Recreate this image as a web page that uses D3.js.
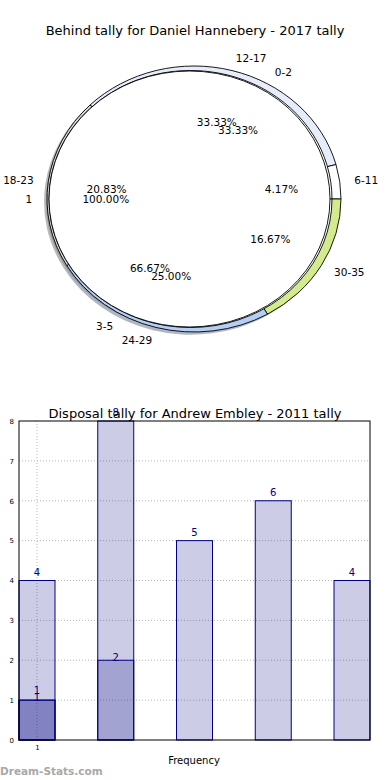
<!DOCTYPE html>
<html>
<head>
<meta charset="utf-8">
<script src="https://cdn.jsdelivr.net/npm/d3@7"></script>
<style>
  body { margin: 0; background: #fff; }
  text { font-family: "DejaVu Sans", sans-serif; }
</style>
</head>
<body>
<svg id="chart" width="390" height="780"></svg>
<script>
// --- pie data (three pies drawn on top of each other)
const ageLabels = ["12-17", "6-11", "30-35", "24-29", "18-23"];
const ageValues = [8, 1, 4, 6, 5];
const ageColors = ["#e6ecfa", "#ffffff", "#d3eb8d", "#b4cef6", "#d8d8d8"];

const youngLabels = ["0-2", "3-5"];
const youngValues = [1, 2];

const gameLabels = ["1"];
const gameValues = [1];

// --- bar data
const barCategories = [1, 2, 3, 4, 5];
const disposals = [4, 8, 5, 6, 4];
const overlayA = [1, 2];
const overlayB = [1];
const yTicks = [0, 1, 2, 3, 4, 5, 6, 7, 8];
const xTicks = [1];

const svg = d3.select("#chart");

// ================= pie =================
svg.append("text")
  .attr("x", 195).attr("y", 35)
  .attr("text-anchor", "middle")
  .style("font-size", "13px")
  .text("Behind tally for Daniel Hannebery - 2017 tally");

const textGeom = { cx: 194, cy: 199, rx: 147, ry: 133 };
const deg = Math.PI / 180;

const pies = [
  { labels: ageLabels, values: ageValues, colors: ageColors, start: -45,
    geom: { cx: 194, cy: 199, rx: 147, ry: 133 } },
  { labels: youngLabels, values: youngValues, colors: ["#ffffff", "#ffffff"], start: -30,
    geom: { cx: 190.5, cy: 199, rx: 141.5, ry: 128.5 } },
  { labels: gameLabels, values: gameValues, colors: ["#ffffff"], start: 90,
    geom: { cx: 189.5, cy: 199, rx: 140.5, ry: 128 } }
];

const arc = d3.arc().innerRadius(0).outerRadius(1);
pies.forEach(p => {
  p.arcs = d3.pie().sort(null)
    .startAngle(p.start * deg)
    .endAngle((p.start + 360) * deg)(p.values);
});

// shadows first (they sit under every wedge)
pies.forEach(p => {
  const g = p.geom;
  svg.append("g")
    .attr("transform", `translate(${g.cx - 3},${g.cy + 2.7}) scale(${g.rx},${g.ry})`)
    .selectAll("path")
    .data(p.arcs)
    .join("path")
    .attr("d", arc)
    .attr("fill", (d, i) => d3.rgb(p.colors[i]).darker(1.7))
    .attr("opacity", 0.5);
});

pies.forEach(p => {
  const g = p.geom;
  svg.append("g")
    .attr("transform", `translate(${g.cx},${g.cy}) scale(${g.rx},${g.ry})`)
    .selectAll("path")
    .data(p.arcs)
    .join("path")
    .attr("d", arc)
    .attr("fill", (d, i) => p.colors[i])
    .attr("stroke", "#000")
    .attr("stroke-width", 0.9)
    .attr("vector-effect", "non-scaling-stroke");
});

const fmtPct = d3.format(".2f");
pies.forEach(p => {
  const sum = d3.sum(p.values);
  p.arcs.forEach((d, i) => {
    const mid = (d.startAngle + d.endAngle) / 2;
    const sx = Math.sin(mid), cy = Math.cos(mid);
    svg.append("text")
      .attr("x", textGeom.cx + 1.1 * textGeom.rx * sx)
      .attr("y", textGeom.cy - 1.1 * textGeom.ry * cy)
      .attr("text-anchor", sx > 1e-9 ? "start" : "end")
      .attr("dominant-baseline", "central")
      .style("font-size", "10.5px")
      .text(p.labels[i]);
    svg.append("text")
      .attr("x", textGeom.cx + 0.6 * textGeom.rx * sx)
      .attr("y", textGeom.cy - 0.6 * textGeom.ry * cy)
      .attr("text-anchor", "middle")
      .attr("dominant-baseline", "central")
      .style("font-size", "10.5px")
      .text(fmtPct(p.values[i] / sum * 100) + "%");
  });
});

// ================= bars =================
const plotLeft = 19, plotRight = 370, plotTop = 421, plotBottom = 740;
const barW = 0.457;
const x = d3.scaleLinear()
  .domain([1 - barW / 2, 5 + barW / 2])
  .range([plotLeft, plotRight]);
const y = d3.scaleLinear().domain([0, 8]).range([plotBottom, plotTop]);

const chart = svg.append("g");

// grid
chart.append("g")
  .selectAll("line")
  .data(yTicks.slice(1, -1))
  .join("line")
  .attr("x1", plotLeft).attr("x2", plotRight)
  .attr("y1", d => y(d)).attr("y2", d => y(d))
  .attr("stroke", "#b8b8b8").attr("stroke-dasharray", "1,2");
chart.append("g")
  .selectAll("line")
  .data(xTicks)
  .join("line")
  .attr("x1", d => x(d)).attr("x2", d => x(d))
  .attr("y1", plotTop).attr("y2", plotBottom)
  .attr("stroke", "#b8b8b8").attr("stroke-dasharray", "1,2");

// bars, each series translucent navy laid over the previous
const series = [
  { values: disposals, labelDy: -5 },
  { values: overlayA, labelDy: 1 },
  { values: overlayB, labelDy: -6 }
];
series.forEach(s => {
  chart.append("g")
    .selectAll("rect")
    .data(s.values)
    .join("rect")
    .attr("x", (d, i) => x(barCategories[i] - barW / 2))
    .attr("width", (d, i) => x(barCategories[i] + barW / 2) - x(barCategories[i] - barW / 2))
    .attr("y", d => y(d))
    .attr("height", d => y(0) - y(d))
    .attr("fill", "rgba(0,0,128,0.2)")
    .attr("stroke", "#000080")
    .attr("stroke-width", 1);
});
series.forEach(s => {
  chart.append("g")
    .selectAll("text")
    .data(s.values)
    .join("text")
    .attr("x", (d, i) => x(barCategories[i]))
    .attr("y", d => y(d) + s.labelDy)
    .attr("text-anchor", "middle")
    .attr("fill", "#000080")
    .style("font-size", "10px")
    .text(d => d);
});

// frame
chart.append("rect")
  .attr("x", plotLeft).attr("y", plotTop)
  .attr("width", plotRight - plotLeft).attr("height", plotBottom - plotTop)
  .attr("fill", "none").attr("stroke", "#000").attr("stroke-width", 1);

// y axis
const yAxis = chart.append("g")
  .attr("transform", `translate(${plotLeft},0)`)
  .call(d3.axisLeft(y).tickValues(yTicks).tickFormat(d3.format("d")).tickSize(0).tickPadding(5));
yAxis.select(".domain").remove();
yAxis.selectAll("text").style("font-size", "7px").attr("font-family", "DejaVu Sans");

// x axis
const xAxis = chart.append("g")
  .attr("transform", `translate(0,${plotBottom})`)
  .call(d3.axisBottom(x).tickValues(xTicks).tickFormat(d3.format("d")).tickSize(0).tickPadding(5));
xAxis.select(".domain").remove();
xAxis.selectAll("text").style("font-size", "7px").attr("font-family", "DejaVu Sans");

svg.append("text")
  .attr("x", 195).attr("y", 418)
  .attr("text-anchor", "middle")
  .style("font-size", "13px")
  .text("Disposal tally for Andrew Embley - 2011 tally");

svg.append("text")
  .attr("x", 194).attr("y", 764)
  .attr("text-anchor", "middle")
  .style("font-size", "10px")
  .text("Frequency");

svg.append("text")
  .attr("x", 0).attr("y", 775)
  .attr("fill", "#a8a8a8")
  .style("font-size", "10.5px")
  .style("font-weight", "bold")
  .text("Dream-Stats.com");
</script>
</body>
</html>
